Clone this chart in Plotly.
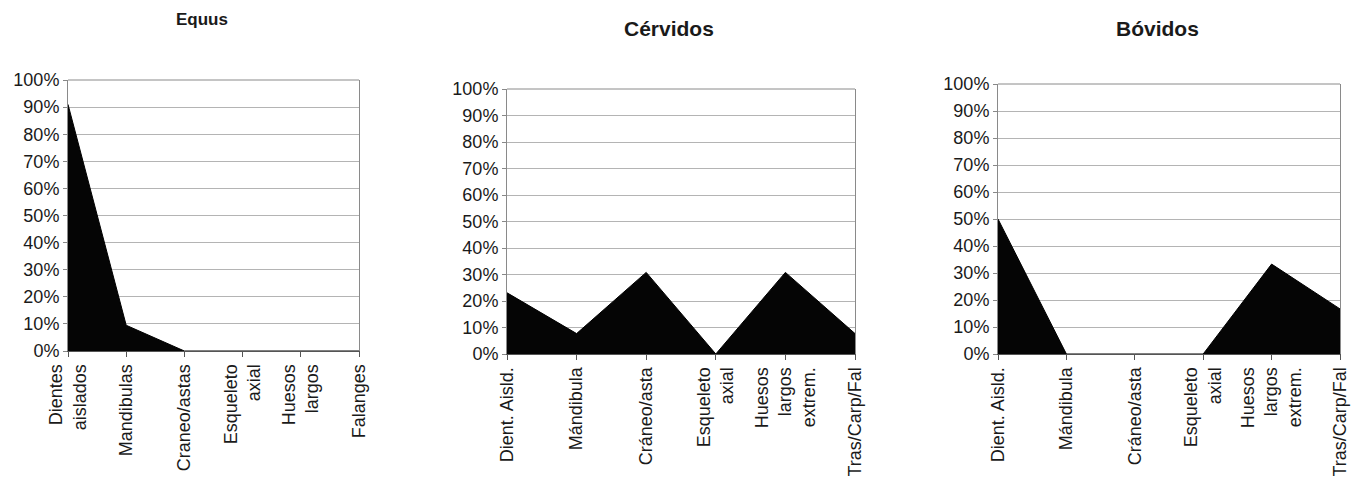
import plotly.graph_objects as go

# Data
equus_cats = ["Dientes<br>aislados", "Mandibulas", "Craneo/astas", "Esqueleto<br>axial", "Huesos<br>largos", "Falanges"]
equus_vals = [0.91, 0.095, 0.0, 0.0, 0.0, 0.0]

cerv_cats = ["Dient. Aisld.", "Mándibula", "Cráneo/asta", "Esqueleto<br>axial", "Huesos<br>largos<br>extrem.", "Tras/Carp/Fal"]
cerv_vals = [0.231, 0.077, 0.308, 0.0, 0.308, 0.077]

bov_cats = ["Dient. Aisld.", "Mándibula", "Cráneo/asta", "Esqueleto<br>axial", "Huesos<br>largos<br>extrem.", "Tras/Carp/Fal"]
bov_vals = [0.50, 0.0, 0.0, 0.0, 0.333, 0.167]

titles = ["Equus", "Cérvidos", "Bóvidos"]
y_ticks = [i / 10 for i in range(11)]

W, H = 1358, 477
FONT = "Liberation Sans, Arial, sans-serif"
TXT = "#1a1a1a"

panels = [
    (equus_cats, equus_vals, (68, 359), (80, 351), (202, 20), 17),
    (cerv_cats, cerv_vals, (507, 855), (89, 354), (669, 28), 21),
    (bov_cats, bov_vals, (998, 1340), (84, 354), (1157, 28), 21),
]

fig = go.Figure()
annotations = []
shapes = []
for i, (cats, vals, (x0, x1), (yt, yb), (tx, ty), tsize) in enumerate(panels):
    n = i + 1
    xa = "x" if n == 1 else f"x{n}"
    ya = "y" if n == 1 else f"y{n}"
    fig.add_trace(go.Scatter(
        x=cats, y=vals, mode="lines", fill="tozeroy",
        fillcolor="#050505", line=dict(color="#000000", width=1),
        xaxis=xa, yaxis=ya, showlegend=False, hoverinfo="skip",
    ))
    xkey = "xaxis" if n == 1 else f"xaxis{n}"
    ykey = "yaxis" if n == 1 else f"yaxis{n}"
    fig.update_layout(**{
        xkey: dict(
            domain=[x0 / W, x1 / W], anchor=ya, automargin=False,
            type="category", range=[0, len(cats) - 1],
            tickangle=-90, ticks="outside", ticklen=5, tickcolor="#555555",
            showline=True, linecolor="#555555", linewidth=1, mirror=False,
            showgrid=False, zeroline=False,
            tickfont=dict(family=FONT, size=18, color=TXT),
        ),
        ykey: dict(
            domain=[1 - yb / H, 1 - yt / H], anchor=xa, automargin=False,
            range=[0, 1], tickvals=y_ticks, tickformat=".0%",
            ticks="outside", ticklen=4, tickcolor="#888888",
            showline=True, linecolor="#8a8a8a", linewidth=1, mirror=True,
            showgrid=True, gridcolor="#b4b4b4", gridwidth=1, zeroline=False,
            tickfont=dict(family=FONT, size=18, color=TXT),
        ),
    })
    annotations.append(dict(
        text=f"<b>{titles[i]}</b>", x=tx / W, y=1 - ty / H,
        xref="paper", yref="paper", xanchor="center", yanchor="middle",
        showarrow=False, font=dict(family=FONT, size=tsize, color=TXT),
    ))
    shapes.append(dict(type="line", xref="paper", yref="paper",
                       x0=x0 / W, x1=x1 / W, y0=1 - yt / H, y1=1 - yt / H,
                       line=dict(color="#8a8a8a", width=1)))

fig.update_layout(
    width=W, height=H,
    margin=dict(l=0, r=0, t=0, b=0, autoexpand=False),
    paper_bgcolor="white", plot_bgcolor="white",
    annotations=annotations, shapes=shapes,
    font=dict(family=FONT, color=TXT),
)

fig.write_html(
    "out.html",
    config={"displayModeBar": False},
    post_script="document.body.style.margin='0px';document.body.style.overflow='hidden';",
)
